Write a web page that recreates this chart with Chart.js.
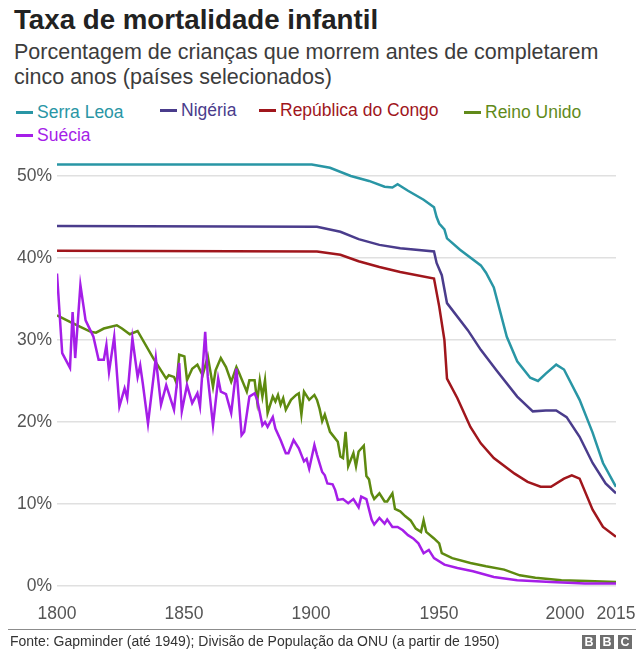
<!DOCTYPE html>
<html lang="pt">
<head>
<meta charset="UTF-8">
<title>Taxa de mortalidade infantil</title>
<script src="https://cdn.jsdelivr.net/npm/chart.js"></script>
<style>
  body { margin: 0; width: 640px; height: 661px; background: #fff; position: relative; overflow: hidden;
         font-family: "Liberation Sans", Arial, Helvetica, sans-serif; }
  .title { position: absolute; left: 14px; top: 4px; font-size: 27.7px; font-weight: bold; color: #222; }
  .subtitle { position: absolute; left: 14px; top: 40px; font-size: 21.5px; line-height: 25px; color: #3c3c3c; }
  .item { position: absolute; white-space: nowrap; font-size: 17.5px; line-height: 20px; }
  .item i { display: inline-block; width: 17px; height: 3px; vertical-align: middle; margin-right: 4px; position: relative; top: -1px; }
  #wrap { position: absolute; left: 0; top: 140px; width: 640px; height: 490px; }
  .rule { position: absolute; left: 8px; width: 628px; top: 629px; border-top: 1px solid #8c8c8c; }
  .source { position: absolute; left: 10px; top: 633px; font-size: 14px; color: #333; }
  .bbc { position: absolute; left: 582px; top: 635px; display: flex; gap: 4px; }
  .bbc span { width: 14px; height: 14px; background: #6e6e6e; color: #fff; font-weight: bold; font-size: 12.5px;
              text-align: center; line-height: 14px; }
</style>
</head>
<body>
  <div class="title">Taxa de mortalidade infantil</div>
  <div class="subtitle">Porcentagem de crianças que morrem antes de completarem<br>cinco anos (países selecionados)</div>
  <div class="item" style="left:16px; top:102px; color:#2996a5"><i style="background:#2996a5"></i>Serra Leoa</div>
  <div class="item" style="left:160px; top:100px; color:#4a3c8c"><i style="background:#4a3c8c"></i>Nigéria</div>
  <div class="item" style="left:259px; top:100px; color:#a0161c"><i style="background:#a0161c"></i>República do Congo</div>
  <div class="item" style="left:464px; top:102px; color:#618a1a"><i style="background:#618a1a"></i>Reino Unido</div>
  <div class="item" style="left:16px; top:125px; color:#a51ee8"><i style="background:#a51ee8"></i>Suécia</div>

  <div id="wrap"><canvas id="chart"></canvas></div>

  <div class="rule"></div>
  <div class="source">Fonte: Gapminder (até 1949); Divisão de População da ONU (a partir de 1950)</div>
  <div class="bbc"><span>B</span><span>B</span><span>C</span></div>

<script>
  // axis ticks
  const xTicks = [1800, 1850, 1900, 1950, 2000, 2015];
  const yTicks = [0, 10, 20, 30, 40, 50];

  // Serra Leoa
  const sleYears = [1800, 1898, 1905, 1913, 1920, 1926, 1929, 1931, 1935, 1941, 1945, 1946, 1947, 1949, 1950,
    1955, 1963, 1965, 1968, 1973, 1977, 1982, 1985, 1988, 1992, 1995, 2001, 2006, 2010, 2015];
  const sleValues = [51.4, 51.4, 51.0, 50.0, 49.4, 48.7, 48.6, 49.0, 48.2, 47.1, 46.2, 45.0, 44.2, 43.5, 42.4,
    41.0, 39.1, 38.2, 36.4, 30.4, 27.4, 25.4, 25.0, 25.9, 27.0, 26.4, 22.7, 18.7, 15.0, 12.1];

  // Nigéria
  const ngaYears = [1800, 1900, 1909, 1916, 1924, 1932, 1945, 1946, 1948, 1950, 1958, 1963, 1969, 1977, 1983,
    1988, 1992, 1996, 2001, 2006, 2011, 2015];
  const ngaValues = [43.9, 43.8, 43.2, 42.3, 41.6, 41.2, 40.8, 39.4, 37.9, 34.5, 31.2, 28.8, 26.3, 23.1, 21.3,
    21.4, 21.4, 20.6, 18.2, 15.0, 12.5, 11.3];

  // República do Congo
  const cogYears = [1800, 1900, 1909, 1916, 1924, 1932, 1945, 1947, 1949, 1950, 1954, 1959, 1963, 1968, 1976,
    1981, 1986, 1990, 1995, 1998, 2001, 2006, 2010, 2015];
  const cogValues = [40.9, 40.8, 40.4, 39.6, 38.9, 38.3, 37.5, 34.1, 30.0, 25.3, 22.9, 19.4, 17.4, 15.6, 13.7,
    12.7, 12.1, 12.1, 13.1, 13.5, 13.1, 9.3, 7.2, 6.0];

  // Reino Unido
  const gbrYears = [1800, 1805, 1809, 1813, 1815, 1818, 1823, 1825, 1828, 1831, 1837, 1842, 1843, 1845, 1846,
    1847, 1849, 1850, 1852, 1854, 1856, 1858, 1860, 1861, 1863, 1865, 1867, 1869, 1870, 1873, 1874, 1876, 1877,
    1878, 1879, 1880, 1881, 1883, 1884, 1885, 1886, 1887, 1888, 1890, 1892, 1893, 1894, 1895, 1897, 1899, 1900,
    1901, 1902, 1903, 1905, 1906, 1908, 1909, 1910, 1911, 1912, 1914, 1915, 1916, 1918, 1919, 1920, 1921, 1922,
    1924, 1926, 1927, 1929, 1930, 1932, 1934, 1936, 1938, 1940, 1941, 1942, 1945, 1947, 1948, 1952, 1959, 1965,
    1972, 1978, 1984, 1994, 2004, 2015];
  const gbrValues = [33.0, 32.2, 31.6, 31.0, 30.9, 31.4, 31.8, 31.4, 30.7, 31.1, 27.8, 25.3, 25.7, 25.5, 24.7,
    28.2, 28.0, 25.1, 26.5, 27.0, 25.7, 28.0, 24.3, 26.3, 27.8, 26.7, 24.9, 26.7, 26.0, 23.7, 25.1, 25.1, 22.5,
    25.1, 23.1, 25.1, 21.1, 23.1, 22.5, 23.3, 22.1, 22.9, 21.5, 22.7, 23.3, 23.5, 20.9, 23.7, 22.7, 23.3, 22.7,
    21.6, 20.1, 20.9, 18.8, 18.4, 17.6, 15.8, 15.6, 18.8, 14.6, 16.2, 14.6, 16.4, 17.1, 13.4, 13.0, 11.3, 10.6,
    11.3, 10.3, 10.3, 11.3, 9.4, 9.1, 8.5, 8.0, 7.0, 6.6, 8.0, 6.6, 5.8, 5.2, 4.0, 3.4, 2.8, 2.4,
    2.0, 1.3, 1.0, 0.7, 0.6, 0.5];

  // Suécia
  const sweYears = [1800, 1802, 1805, 1806, 1807, 1809, 1811, 1814, 1816, 1818, 1819, 1820, 1822, 1824, 1826,
    1827, 1829, 1831, 1832, 1833, 1835, 1838, 1840, 1842, 1845, 1847, 1848, 1850, 1852, 1854, 1855, 1857, 1858,
    1860, 1862, 1863, 1865, 1867, 1869, 1871, 1872, 1874, 1876, 1877, 1879, 1880, 1881, 1883, 1884, 1886, 1888,
    1889, 1891, 1893, 1895, 1896, 1897, 1899, 1900, 1902, 1903, 1904, 1906, 1907, 1908, 1910, 1912, 1914, 1916,
    1917, 1919, 1921, 1922, 1924, 1926, 1927, 1929, 1931, 1933, 1935, 1937, 1939, 1941, 1943, 1945, 1949, 1954,
    1960, 1968, 1977, 1990, 2003, 2015];
  const sweValues = [38.1, 28.4, 26.6, 33.4, 27.8, 36.7, 32.4, 30.4, 27.6, 27.6, 29.4, 26.1, 30.4, 21.9, 24.1,
    22.9, 30.2, 25.5, 26.9, 24.7, 19.8, 27.8, 22.1, 24.5, 21.5, 27.2, 21.3, 24.5, 22.3, 23.5, 21.9, 31.0, 25.5,
    19.6, 25.3, 23.7, 23.4, 21.1, 26.5, 18.4, 18.8, 23.1, 23.5, 22.7, 19.6, 20.0, 19.4, 20.6, 19.2, 17.8, 16.2,
    16.2, 17.8, 16.8, 15.2, 15.5, 14.3, 17.2, 16.0, 13.9, 13.5, 12.5, 12.4, 11.7, 10.5, 10.6, 10.1, 10.6, 9.6,
    10.9, 10.6, 8.1, 7.5, 8.3, 7.6, 8.1, 7.2, 7.2, 6.8, 6.2, 5.8, 5.2, 4.0, 4.4, 3.4, 2.6, 2.2,
    1.8, 1.1, 0.7, 0.5, 0.3, 0.3];

  function toPoints(years, values) {
    return years.map((yr, i) => ({ x: yr, y: values[i] }));
  }

  // the original places some year labels a little left of their tick
  const labelNudge = { 1850: -3, 1900: -6, 1950: -8, 2000: -12 };
  const nudgeXLabels = {
    id: 'nudgeXLabels',
    beforeDraw(chart) {
      const scale = chart.scales.x;
      const items = scale.getLabelItems();
      if (items._nudged) return;
      items.forEach((item, i) => {
        const v = scale.ticks[i] ? scale.ticks[i].value : null;
        item.options.translation[0] += labelNudge[v] || 0;
      });
      items._nudged = true;
    }
  };

  const lineStyle = { borderWidth: 2.5, pointRadius: 0, tension: 0, fill: false };
  const tickFont = { family: '"Liberation Sans", Arial, sans-serif', size: 17.5 };

  new Chart(document.getElementById('chart'), {
    type: 'line',
    data: {
      datasets: [
        { label: 'Suécia', data: toPoints(sweYears, sweValues), borderColor: '#a51ee8', ...lineStyle },
        { label: 'Reino Unido', data: toPoints(gbrYears, gbrValues), borderColor: '#5e8a10', ...lineStyle },
        { label: 'República do Congo', data: toPoints(cogYears, cogValues), borderColor: '#a0161c', ...lineStyle },
        { label: 'Nigéria', data: toPoints(ngaYears, ngaValues), borderColor: '#4a3c8c', ...lineStyle },
        { label: 'Serra Leoa', data: toPoints(sleYears, sleValues), borderColor: '#2996a5', ...lineStyle }
      ]
    },
    options: {
      responsive: true,
      maintainAspectRatio: false,
      animation: false,
      layout: { padding: { top: 6, right: 24, left: 0, bottom: 0 } },
      plugins: { legend: { display: false }, tooltip: { enabled: false } },
      scales: {
        x: {
          type: 'linear',
          min: 1800,
          max: 2015,
          afterBuildTicks: axis => { axis.ticks = xTicks.map(v => ({ value: v })); },
          afterFit: axis => { axis.height = 44; axis.paddingLeft = 0; axis.paddingRight = 0; },
          grid: { display: false, drawTicks: false },
          border: { display: false },
          ticks: {
            autoSkip: false, maxRotation: 0, padding: 18, color: '#555', font: tickFont,
            callback: v => String(v)
          }
        },
        y: {
          min: 0,
          max: 53.66,
          afterBuildTicks: axis => { axis.ticks = yTicks.map(v => ({ value: v })); },
          afterFit: axis => { axis.width = 57; axis.paddingTop = 0; axis.paddingBottom = 0; },
          grid: { color: '#e0e0e0', lineWidth: 1.5, drawTicks: false },
          border: { display: false },
          ticks: {
            padding: 5, color: '#555', font: tickFont,
            callback: v => v + '%'
          }
        }
      }
    },
    plugins: [nudgeXLabels]
  });
</script>
</body>
</html>
